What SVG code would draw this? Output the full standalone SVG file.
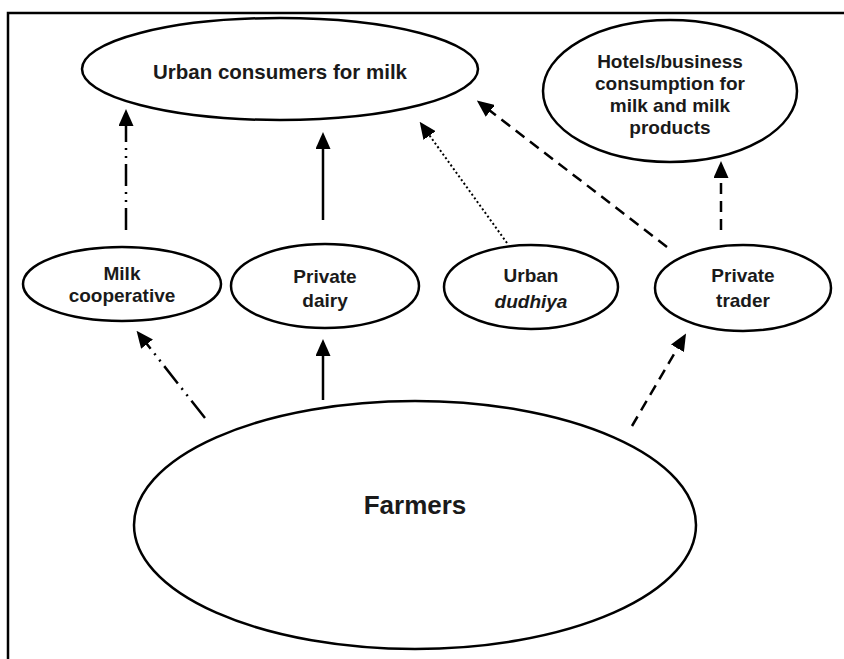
<svg xmlns="http://www.w3.org/2000/svg" width="844" height="659" viewBox="0 0 844 659">
<style>
  .node ellipse { fill: #fff; stroke: #000; stroke-width: 2.5; }
  .lbl { font-family: "Liberation Sans", Arial, sans-serif; font-weight: bold; font-size: 19px; fill: #1a1a1a; text-anchor: middle; }
  .big { font-size: 26px; }
  .top { font-size: 20.5px; }
  .edge { fill: none; stroke: #000; stroke-width: 2.5; }
  .dash { stroke-dasharray: 11 7; }
  .dot { stroke-width: 2; stroke-dasharray: 2 2.5; }
  .dd { stroke-dasharray: 22 6 2 6 2 6; }
</style>
<defs>
  <marker id="ah" markerUnits="userSpaceOnUse" markerWidth="17" markerHeight="15" viewBox="0 0 17 15" refX="13" refY="7.5" orient="auto">
    <path d="M0,0 L17,7.5 L0,15 z" fill="#000"/>
  </marker>
</defs>
<rect x="0" y="0" width="844" height="659" fill="#fff"/>
<rect x="8" y="13" width="860" height="680" fill="none" stroke="#000" stroke-width="2.5"/>

<g id="urban-consumers" class="node">
  <ellipse cx="280" cy="69" rx="198" ry="51"/>
  <text class="lbl top" x="280" y="79">Urban consumers for milk</text>
</g>
<g id="hotels" class="node">
  <ellipse cx="670" cy="91" rx="127" ry="71"/>
  <text class="lbl" x="670" y="68">Hotels/business</text>
  <text class="lbl" x="670" y="90">consumption for</text>
  <text class="lbl" x="670" y="112">milk and milk</text>
  <text class="lbl" x="670" y="134">products</text>
</g>
<g id="milk-cooperative" class="node">
  <ellipse cx="122" cy="284" rx="99" ry="37"/>
  <text class="lbl" x="122" y="280">Milk</text>
  <text class="lbl" x="122" y="302">cooperative</text>
</g>
<g id="private-dairy" class="node">
  <ellipse cx="325" cy="286" rx="94" ry="42"/>
  <text class="lbl" x="325" y="283">Private</text>
  <text class="lbl" x="325" y="307">dairy</text>
</g>
<g id="urban-dudhiya" class="node">
  <ellipse cx="531" cy="287" rx="87" ry="42"/>
  <text class="lbl" x="531" y="282">Urban</text>
  <text class="lbl" x="531" y="308" font-style="italic">dudhiya</text>
</g>
<g id="private-trader" class="node">
  <ellipse cx="743" cy="288" rx="88" ry="43"/>
  <text class="lbl" x="743" y="282">Private</text>
  <text class="lbl" x="743" y="307">trader</text>
</g>
<g id="farmers" class="node">
  <ellipse cx="415" cy="525" rx="281" ry="124"/>
  <text class="lbl big" x="415" y="514">Farmers</text>
</g>

<g id="connectors">
  <line class="edge dd" x1="126" y1="230" x2="126" y2="113" marker-end="url(#ah)"/>
  <line class="edge" x1="323" y1="220" x2="323" y2="136" marker-end="url(#ah)"/>
  <line class="edge dot" x1="507" y1="243" x2="422" y2="125" marker-end="url(#ah)"/>
  <line class="edge dash" x1="667" y1="247" x2="480" y2="103" marker-end="url(#ah)"/>
  <line class="edge dash" x1="721" y1="230" x2="721" y2="165" marker-end="url(#ah)"/>
  <line class="edge dd" x1="205" y1="418" x2="139" y2="334" marker-end="url(#ah)"/>
  <line class="edge" x1="323" y1="400" x2="323" y2="343" marker-end="url(#ah)"/>
  <line class="edge dash" x1="632" y1="426" x2="684" y2="337" marker-end="url(#ah)"/>
</g>
</svg>
